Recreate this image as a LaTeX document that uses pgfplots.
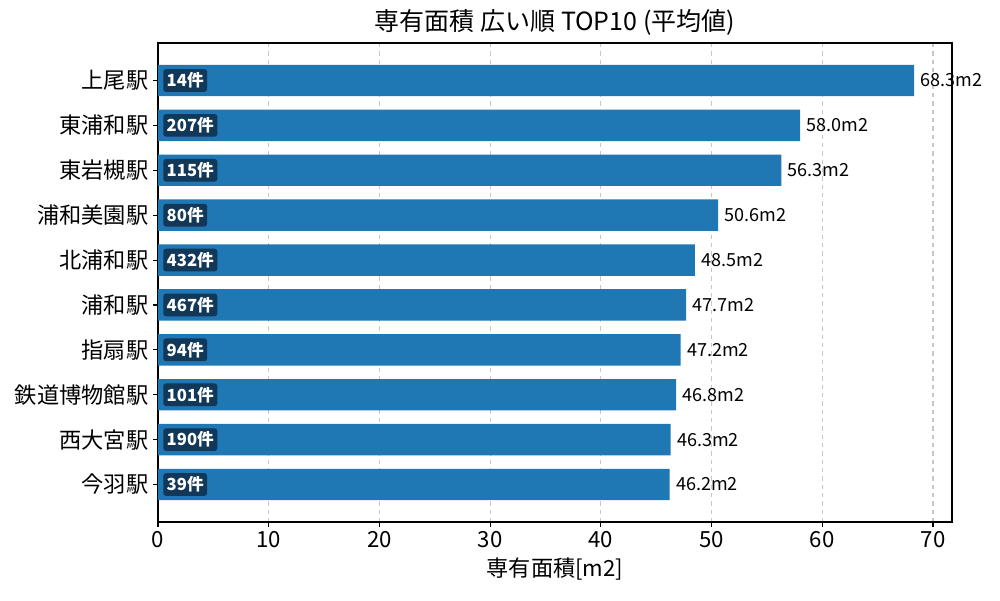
\documentclass[border=0pt]{standalone}
\usepackage{fontspec}
\setmainfont{Noto Sans CJK JP}
\usepackage{pgfplots}
\pgfplotsset{compat=1.18}
\definecolor{barblue}{HTML}{1F77B4}
\definecolor{boxblue}{RGB}{17,56,88}
\begin{document}
\begin{tikzpicture}
\useasboundingbox (0,0) rectangle (720pt,432pt);
\begin{axis}[
  at={(113.76pt,56.16pt)}, anchor=south west, scale only axis,
  width=571.68pt, height=344.88pt,
  xmin=0, xmax=71.715, ymin=-0.835, ymax=9.835, y dir=reverse,
  ytick={0,...,9},
  yticklabels={上尾駅,東浦和駅,東岩槻駅,浦和美園駅,北浦和駅,浦和駅,指扇駅,鉄道博物館駅,西大宮駅,今羽駅},
  xtick={0,10,...,70},
  xtick pos=lower, ytick pos=left,
  tick align=outside, major tick length=3.5pt,
  tick style={black, line width=0.8pt},
  axis line style={line width=0.8pt},
  xmajorgrids, major grid style={dashed, black!22, line width=0.8pt},
  /pgf/number format/assume math mode=true,
  xticklabel style={font=\fontsize{16}{19}\selectfont},
  yticklabel style={font=\fontsize{16}{19}\selectfont},
  xlabel={専有面積[m2]},
  xlabel style={font=\fontsize{16}{19}\selectfont, yshift=0pt},
  title={専有面積 広い順 TOP10 (平均値)},
  title style={font=\fontsize{18}{22}\selectfont, yshift=-4pt},
  clip=false,
]
\addplot[xbar, bar width=0.7, fill=barblue, draw=none,
  point meta=x,
  nodes near coords={\pgfmathprintnumber[fixed,precision=1,fixed zerofill]{\pgfplotspointmeta}m2},
  nodes near coords style={anchor=west, inner sep=0pt, xshift=4.5pt, black, font=\fontsize{13}{15}\selectfont},
] coordinates {
  (68.3,0) (58.0,1) (56.3,2) (50.6,3) (48.5,4)
  (47.7,5) (47.2,6) (46.8,7) (46.3,8) (46.2,9)
};
\addplot[draw=none, mark=none,
  point meta=explicit symbolic,
  nodes near coords={\pgfplotspointmeta},
  nodes near coords style={anchor=west, fill=boxblue, text=white, rounded corners=2pt,
    inner xsep=2.5pt, inner ysep=2.5pt, font=\bfseries\fontsize{12}{14}\selectfont},
] coordinates {
  (0.45,0) [14件] (0.45,1) [207件] (0.45,2) [115件] (0.45,3) [80件] (0.45,4) [432件]
  (0.45,5) [467件] (0.45,6) [94件] (0.45,7) [101件] (0.45,8) [190件] (0.45,9) [39件]
};
\end{axis}
\end{tikzpicture}
\end{document}
